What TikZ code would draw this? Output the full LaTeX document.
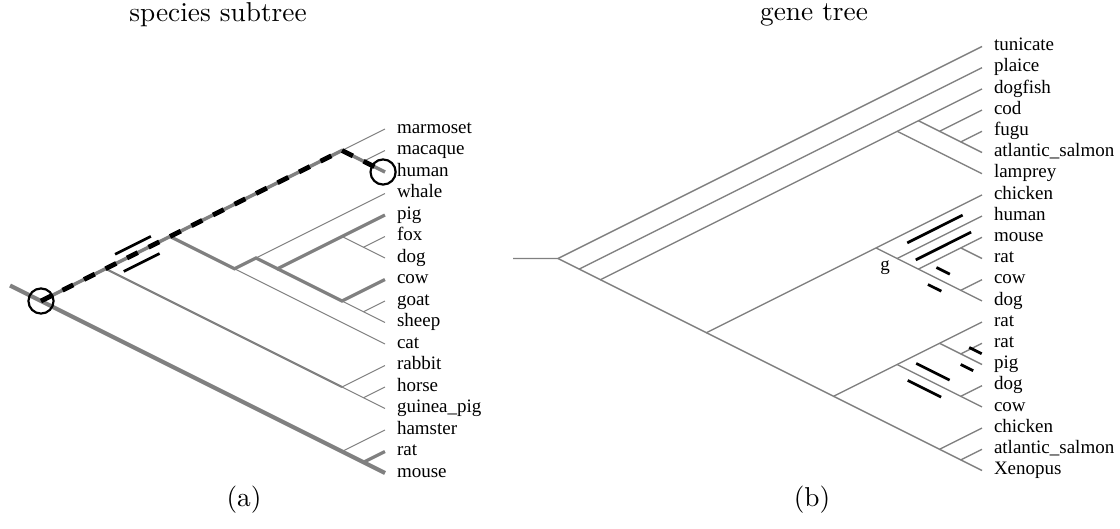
\documentclass[tikz,border=0pt]{standalone}
\usepackage{fontspec}
\newfontfamily\labfont{Liberation Serif}
\usetikzlibrary{calc}
\begin{document}
\begin{tikzpicture}[x=0.366pt,y=-0.366pt,
  thinb/.style={draw=black!50,line width=0.35pt},
  medb/.style={draw=black!50,line width=0.75pt},
  thickb/.style={draw=black!50,line width=1.15pt},
  heavyb/.style={draw=black!50,line width=1.55pt},
  geneb/.style={draw=black!50,line width=0.5pt},
  dupmark/.style={draw=black,line width=1pt},
  pathgrey/.style={draw=black!50,line width=1.3pt},
  pathdash/.style={draw=black,line width=1.75pt,dash pattern=on 4.4pt off 4.4pt},
  ring/.style={draw=black,line width=0.8pt,circle,minimum size=9.2pt,inner sep=0pt},
  leaf/.style={anchor=base west,inner sep=0pt,font=\labfont\fontsize{6.95}{8}\selectfont,xshift=4.2pt,yshift=-1.57pt},
  smalltxt/.style={inner sep=0pt,font=\labfont\fontsize{6.95}{8}\selectfont},
  caption/.style={inner sep=0pt,font=\normalsize}
]
\useasboundingbox (0,0) rectangle (1120,529);

% ---------- titles ----------
\node[caption] (ta) at (218,15) {species subtree};
\node[caption] (tb) at (814,15) {gene tree};
\node[caption] (pa) at (244,500) {(a)};
\node[caption] (pb) at (812,500) {(b)};

% ---------- (a) species subtree ----------
\foreach \lab [count=\i from 0] in {marmoset,macaque,human,whale,pig,fox,dog,cow,goat,sheep,cat,rabbit,horse,guinea\_pig,hamster,rat,mouse}{
  \coordinate (sa\i) at (385,{129+21.5*\i});
  \node[leaf] (la\i) at (sa\i) {\lab};
}
\coordinate (astub) at (10,285.5);
\coordinate (aroot) at (41,301);
\coordinate (aX) at (105.5,268.75);
\coordinate (aY) at (170,236.5);
\coordinate (aP) at (342,150.5);
\coordinate (aPM) at (363.5,161.25);
\coordinate (aZ) at (234.5,268.75);
\coordinate (aW) at (256,258);
\coordinate (aV) at (277.5,268.75);
\coordinate (aC1) at (342,236.5);
\coordinate (aC1b) at (363.5,247.25);
\coordinate (aC2) at (342,301);
\coordinate (aC2b) at (363.5,311.75);
\coordinate (aR) at (342,387);
\coordinate (aRb) at (363.5,397.75);
\coordinate (aH) at (342,451.5);
\coordinate (aHb) at (363.5,462.25);

\draw[thinb] (aH) -- (sa14);
\draw[thickb] (aHb) -- (sa15);
\draw[heavyb] (astub) -- (aroot) -- (aH) -- (aHb) -- (sa16);
\draw[medb] (aX) -- (aR);
\draw[thinb] (aR) -- (sa11);
\draw[thinb] (aR) -- (aRb) -- (sa13);
\draw[thinb] (aRb) -- (sa12);
\draw[thinb] (aZ) -- (sa10);
\draw[thinb] (aW) -- (sa3);
\draw[thinb] (aC1) -- (aC1b) -- (sa6);
\draw[thinb] (aC1b) -- (sa5);
\draw[thinb] (aC2) -- (aC2b) -- (sa9);
\draw[thinb] (aC2b) -- (sa8);
\draw[thickb] (aY) -- (aZ) -- (aW) -- (aV) -- (aC1) -- (sa4);
\draw[thickb] (aV) -- (aC2) -- (sa7);
\draw[thinb] (aP) -- (sa0);
\draw[thinb] (aPM) -- (sa1);
\draw[pathgrey] (aroot) -- (aX) -- (aY) -- (aP) -- (aPM) -- (sa2);
\draw[pathdash] (aroot) -- (aX) -- (aY) -- (aP) -- (aPM) -- (sa2);

\draw[dupmark] (115.1,254.25) -- (150.9,236.35);
\draw[dupmark] (123.75,271.45) -- (159.55,253.55);

\node[ring] (ringroot) at (aroot) {};
\node[ring] (ringhuman) at ([xshift=-0.7pt]sa2) {};

% ---------- (b) gene tree ----------
\foreach \lab [count=\i from 0] in {tunicate,plaice,dogfish,cod,fugu,atlantic\_salmon,lamprey,chicken,human,mouse,rat,cow,dog,rat,rat,pig,dog,cow,chicken,atlantic\_salmon,Xenopus}{
  \coordinate (sb\i) at (982,{46.5+21.2*\i});
  \node[leaf] (lb\i) at (sb\i) {\lab};
}
\coordinate (bstub) at (513,258.5);
\coordinate (broot) at (558,258.5);
\coordinate (bA) at (579.2,269.1);
\coordinate (bB) at (600.4,279.7);
\coordinate (bD) at (897.2,131.3);
\coordinate (bD1) at (918.4,120.7);
\coordinate (bD2) at (939.6,131.3);
\coordinate (bD3) at (960.8,141.9);
\coordinate (bE) at (706.4,332.7);
\coordinate (bF) at (876,247.9);
\coordinate (bg) at (897.2,258.5);
\coordinate (bg1) at (918.4,269.1);
\coordinate (bg2) at (960.8,247.9);
\coordinate (bg3) at (960.8,290.3);
\coordinate (bG) at (833.6,396.3);
\coordinate (bHn) at (897.2,364.5);
\coordinate (bH1) at (939.6,343.3);
\coordinate (bH2) at (960.8,353.9);
\coordinate (bH3) at (960.8,396.3);
\coordinate (bI) at (939.6,449.3);
\coordinate (bI1) at (960.8,459.9);

\draw[geneb] (bstub) -- (broot) -- (sb0);
\draw[geneb] (broot) -- (bA) -- (sb1);
\draw[geneb] (bA) -- (bB) -- (bD) -- (bD1) -- (sb2);
\draw[geneb] (bD1) -- (bD2) -- (sb3);
\draw[geneb] (bD2) -- (bD3) -- (sb4);
\draw[geneb] (bD3) -- (sb5);
\draw[geneb] (bD) -- (sb6);
\draw[geneb] (bB) -- (bE) -- (bF) -- (sb7);
\draw[geneb] (bF) -- (bg) -- (sb8);
\draw[geneb] (bg) -- (bg1) -- (bg2) -- (sb9);
\draw[geneb] (bg2) -- (sb10);
\draw[geneb] (bg1) -- (bg3) -- (sb11);
\draw[geneb] (bg3) -- (sb12);
\draw[geneb] (bE) -- (bG) -- (bHn) -- (bH1) -- (sb13);
\draw[geneb] (bH1) -- (bH2) -- (sb14);
\draw[geneb] (bH2) -- (sb15);
\draw[geneb] (bHn) -- (bH3) -- (sb16);
\draw[geneb] (bH3) -- (sb17);
\draw[geneb] (bG) -- (bI) -- (sb18);
\draw[geneb] (bI) -- (bI1) -- (sb19);
\draw[geneb] (bI1) -- (sb20);

\node[smalltxt] (glab) at (885,267.5) {g};

\draw[dupmark] (907.25,242.9) -- (962.65,215.1);
\draw[dupmark] (915.75,259.9) -- (971.15,232.1);
\draw[dupmark] (936.45,267.5) -- (949.85,274.2);
\draw[dupmark] (927.95,284.5) -- (941.35,291.2);
\draw[dupmark] (969.2,347.5) -- (981.7,353.7);
\draw[dupmark] (960.7,364.5) -- (973.2,370.7);
\draw[dupmark] (916.25,363.4) -- (949.65,380.1);
\draw[dupmark] (907.75,380.4) -- (941.15,397.1);
\end{tikzpicture}
\end{document}
